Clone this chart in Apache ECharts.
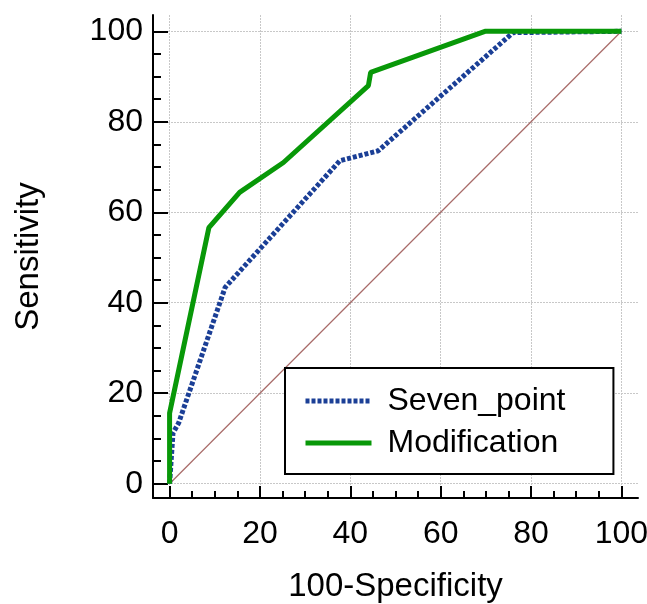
<!DOCTYPE html>
<html>
<head>
<meta charset="utf-8">
<script src="https://cdn.jsdelivr.net/npm/echarts@6/dist/echarts.min.js"></script>
<style>
  html, body { margin: 0; padding: 0; background: #fff; }
  #chart { width: 647px; height: 604px; }
</style>
</head>
<body>
<div id="chart"></div>
<script>
  // ROC points: [100-Specificity, Sensitivity]
  const sevenPoint = [
    [0, 0], [0.75, 11.2], [2.0, 13.4], [12.3, 43.4], [37.7, 71.4],
    [46.2, 73.6], [76, 99.7], [100, 100]
  ];
  const modification = [
    [0, 0], [0, 15.6], [8.7, 56.6], [15.5, 64.4], [25.2, 71.0],
    [44.0, 88.0], [44.5, 90.9], [69.8, 100], [100, 100]
  ];
  const diagonal = [[0, 0], [100, 100]];

  const majorTicks = [0, 20, 40, 60, 80, 100];
  const minorTicks = [5, 10, 15, 25, 30, 35, 45, 50, 55, 65, 70, 75, 85, 90, 95];

  const FONT = "Liberation Sans";
  const xMin = -3.67, xMax = 103.67;
  const yMin = -3.16, yMax = 103.6;

  const gridLine = { show: true, customValues: majorTicks, lineStyle: { color: "#c8c8c8", width: 1, type: [2, 1] } };

  const chart = echarts.init(document.getElementById("chart"), null, { renderer: "canvas" });

  chart.setOption({
    animation: false,
    backgroundColor: "#fff",
    grid: { left: 153, right: 9, top: 15, bottom: 106, containLabel: false, outerBoundsMode: "none" },
    legend: {
      data: ["Seven_point", "Modification"],
      orient: "vertical",
      left: 285,
      top: 368,
      padding: [17, 48, 15, 18],
      itemGap: 10,
      itemWidth: 66,
      itemHeight: 14,
      itemStyle: { opacity: 0 },
      lineStyle: { width: 5 },
      backgroundColor: "#fff",
      borderColor: "#000",
      borderWidth: 2,
      borderRadius: 0,
      textStyle: { fontFamily: FONT, fontSize: 32, color: "#000", padding: [0, 0, 0, 11] }
    },
    xAxis: [
      {
        type: "value", min: xMin, max: xMax, position: "bottom",
        name: "100-Specificity", nameLocation: "middle", nameGap: 72,
        nameTextStyle: { fontFamily: FONT, fontSize: 33, color: "#000" },
        axisLine: { show: true, onZero: false, lineStyle: { color: "#000", width: 2 } },
        axisTick: { show: true, inside: true, length: 12, customValues: majorTicks, lineStyle: { color: "#000", width: 2 } },
        axisLabel: { show: true, customValues: majorTicks, margin: 20, fontFamily: FONT, fontSize: 32, color: "#000" },
        splitLine: gridLine
      },
      {
        type: "value", min: xMin, max: xMax, position: "bottom",
        axisLine: { show: false, onZero: false },
        axisTick: { show: true, inside: true, length: 7, customValues: minorTicks, lineStyle: { color: "#000", width: 2 } },
        axisLabel: { show: false },
        splitLine: { show: false }
      }
    ],
    yAxis: [
      {
        type: "value", min: yMin, max: yMax, position: "left",
        name: "Sensitivity", nameLocation: "middle", nameGap: 108, nameRotate: 90,
        nameTextStyle: { fontFamily: FONT, fontSize: 33, color: "#000" },
        axisLine: { show: true, onZero: false, lineStyle: { color: "#000", width: 2 } },
        axisTick: { show: true, inside: true, length: 15, customValues: majorTicks, lineStyle: { color: "#000", width: 2 } },
        axisLabel: { show: true, customValues: majorTicks, margin: 10, fontFamily: FONT, fontSize: 32, color: "#000" },
        splitLine: gridLine
      },
      {
        type: "value", min: yMin, max: yMax, position: "left",
        axisLine: { show: false, onZero: false },
        axisTick: { show: true, inside: true, length: 8, customValues: minorTicks, lineStyle: { color: "#000", width: 2 } },
        axisLabel: { show: false },
        splitLine: { show: false }
      }
    ],
    series: [
      {
        name: "Reference", type: "line", data: diagonal, symbol: "none", silent: true,
        lineStyle: { color: "#a86a68", width: 1.2 }
      },
      {
        name: "Seven_point", type: "line", data: sevenPoint, symbol: "none",
        color: "#1b3f96",
        lineStyle: { color: "#1b3f96", width: 5, type: [4, 2], cap: "butt" }
      },
      {
        name: "Modification", type: "line", data: modification, symbol: "none",
        color: "#089808",
        lineStyle: { color: "#089808", width: 5 }
      }
    ]
  });
</script>
</body>
</html>
